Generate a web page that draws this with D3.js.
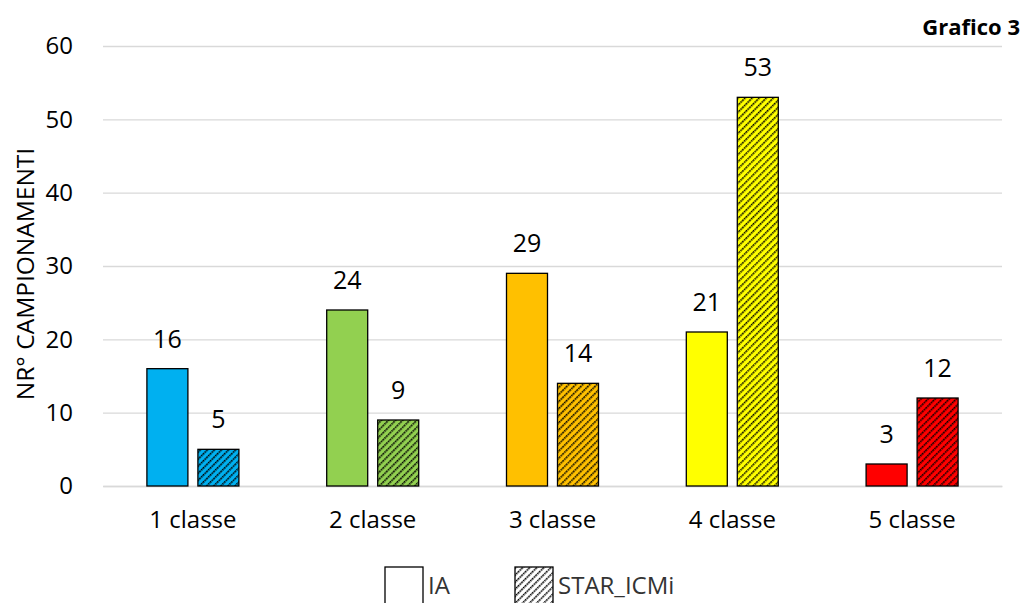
<!DOCTYPE html>
<html>
<head>
<meta charset="utf-8">
<script src="https://cdn.jsdelivr.net/npm/d3@7"></script>
<style>
  html, body { margin: 0; padding: 0; background: #fff; }
  svg { display: block; font-family: "Open Sans", Lato, "Liberation Sans", sans-serif; }
</style>
</head>
<body>
<svg id="chart" width="1024" height="603"></svg>
<script>
// Sample counts per quality class, two classification methods
const categories = ["1 classe", "2 classe", "3 classe", "4 classe", "5 classe"];
const seriesNames = ["IA", "STAR_ICMi"];
const valuesIA = [16, 24, 29, 21, 3];
const valuesSTAR = [5, 9, 14, 53, 12];
const classColors = ["#00B0F0", "#92D050", "#FFC000", "#FFFF00", "#FF0000"];
const yTicks = [0, 10, 20, 30, 40, 50, 60];

const FONT = "'Open Sans', Lato, sans-serif";
const FS = 24;

const svg = d3.select("#chart");
const W = 1024, H = 603;
const margin = { left: 103, right: 22, top: 46, bottom: 117 };
const plotW = W - margin.left - margin.right;
const plotH = H - margin.top - margin.bottom;

const g = svg.append("g").attr("transform", `translate(${margin.left},${margin.top})`);

const x = d3.scaleBand().domain(categories).range([0, plotW]).paddingInner(0).paddingOuter(0);
const y = d3.scaleLinear().domain([0, 60]).range([plotH, 0]);

// Hatch patterns: one per class colour, plus a plain one for the legend
const defs = svg.append("defs");
function hatch(id, fill) {
  const p = defs.append("pattern")
    .attr("id", id)
    .attr("patternUnits", "userSpaceOnUse")
    .attr("width", 5).attr("height", 5)
    .attr("patternTransform", "rotate(45)");
  p.append("rect").attr("width", 5).attr("height", 5).attr("fill", fill);
  p.append("line").attr("x1", 0).attr("y1", 0).attr("x2", 0).attr("y2", 5)
    .attr("stroke", "#000").attr("stroke-width", 3.2).attr("stroke-dasharray", "1.8 0.7");
  return `url(#${id})`;
}
const hatchFills = classColors.map((c, i) => hatch("hatch" + i, c));
const legendHatch = hatch("hatchLegend", "#fff");

// Gridlines
const yAxis = d3.axisLeft(y).tickValues(yTicks).tickSize(-plotW).tickPadding(30);
const ya = g.append("g").call(yAxis);
ya.select(".domain").remove();
ya.selectAll(".tick line").attr("stroke", "#d9d9d9").attr("stroke-width", 1.3);
ya.selectAll(".tick text").attr("font-size", FS).attr("fill", "#000").attr("font-family", FONT);

// Category axis
const xAxis = d3.axisBottom(x).tickSize(0).tickPadding(25);
const xa = g.append("g").attr("transform", `translate(0,${plotH})`).call(xAxis);
xa.select(".domain").attr("stroke", "#d9d9d9").attr("stroke-width", 1.3);
xa.selectAll(".tick text").attr("font-size", FS).attr("fill", "#000").attr("font-family", FONT);

// Bars
const barW = 41, gap = 10;
const rows = categories.map((c, i) => ({ cat: c, i, ia: valuesIA[i], star: valuesSTAR[i] }));

const grp = g.selectAll(".cat").data(rows).join("g")
  .attr("transform", d => `translate(${x(d.cat) + x.bandwidth() / 2},0)`);

grp.append("rect")
  .attr("x", -barW - gap / 2)
  .attr("y", d => y(d.ia))
  .attr("width", barW)
  .attr("height", d => plotH - y(d.ia))
  .attr("fill", d => classColors[d.i])
  .attr("stroke", "#000").attr("stroke-width", 1.3);

grp.append("rect")
  .attr("x", gap / 2)
  .attr("y", d => y(d.star))
  .attr("width", barW)
  .attr("height", d => plotH - y(d.star))
  .attr("fill", d => hatchFills[d.i])
  .attr("stroke", "#000").attr("stroke-width", 1.3);

// Value labels
grp.append("text")
  .attr("x", -barW / 2 - gap / 2)
  .attr("y", d => y(d.ia) - 21)
  .attr("text-anchor", "middle").attr("font-size", 25).attr("fill", "#000")
  .text(d => d.ia);

grp.append("text")
  .attr("x", barW / 2 + gap / 2)
  .attr("y", d => y(d.star) - 21)
  .attr("text-anchor", "middle").attr("font-size", 25).attr("fill", "#000")
  .text(d => d.star);

// Y-axis title
svg.append("text")
  .attr("transform", `translate(34,${margin.top + plotH / 2 + 8}) rotate(-90)`)
  .attr("text-anchor", "middle").attr("font-size", 24.5).attr("fill", "#000")
  .text("NR° CAMPIONAMENTI");

// Chart label
svg.append("text")
  .attr("x", 1020).attr("y", 35)
  .attr("text-anchor", "end").attr("font-size", 22).attr("font-weight", "bold").attr("fill", "#000")
  .text("Grafico 3");

// Legend (sits at the bottom edge; keys are partly clipped by the canvas)
const legend = svg.append("g").attr("transform", "translate(385,567)");
const legendItems = [
  { name: seriesNames[0], fill: "#fff", x: 0 },
  { name: seriesNames[1], fill: legendHatch, x: 130 }
];
const li = legend.selectAll("g").data(legendItems).join("g")
  .attr("transform", d => `translate(${d.x},0)`);
li.append("rect").attr("width", 38).attr("height", 40)
  .attr("fill", d => d.fill).attr("stroke", "#000").attr("stroke-width", 1.3);
li.append("text").attr("x", 43).attr("y", 27).attr("font-size", 24).attr("fill", "#333")
  .text(d => d.name);
</script>
</body>
</html>
